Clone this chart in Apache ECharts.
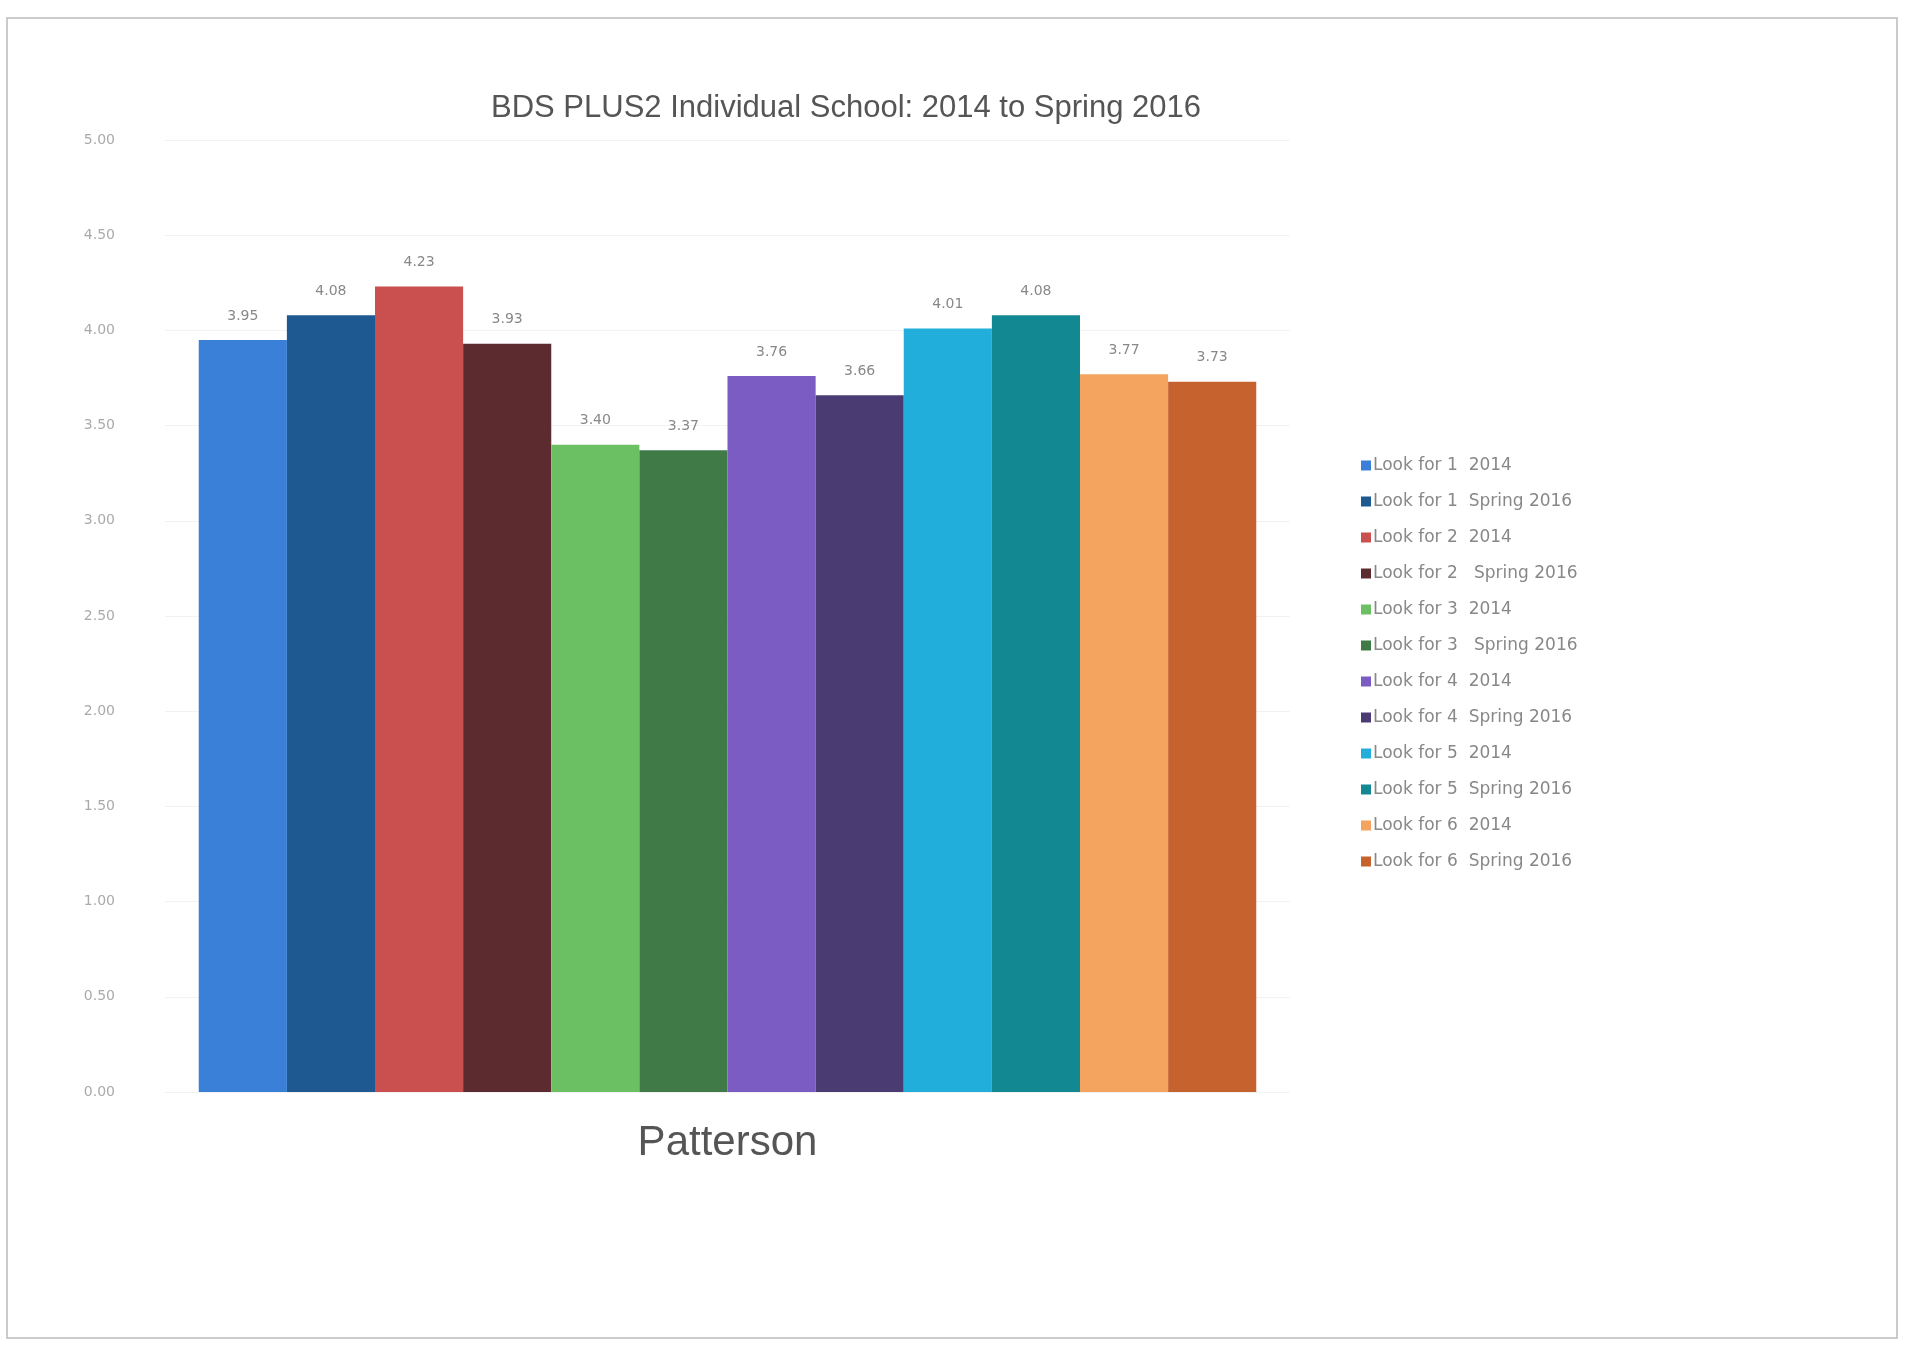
<!DOCTYPE html>
<html>
<head>
<meta charset="utf-8">
<script src="https://cdn.jsdelivr.net/npm/echarts@6/dist/echarts.min.js"></script>
<style>
html,body{margin:0;padding:0;background:#fff;}
#chart{width:1906px;height:1351px;}
</style>
</head>
<body>
<div id="chart"></div>
<script>
const categories = ['Patterson'];
const seriesNames = [
  'Look for 1  2014', 'Look for 1  Spring 2016',
  'Look for 2  2014', 'Look for 2   Spring 2016',
  'Look for 3  2014', 'Look for 3   Spring 2016',
  'Look for 4  2014', 'Look for 4  Spring 2016',
  'Look for 5  2014', 'Look for 5  Spring 2016',
  'Look for 6  2014', 'Look for 6  Spring 2016'
];
const seriesValues = [3.95, 4.08, 4.23, 3.93, 3.40, 3.37, 3.76, 3.66, 4.01, 4.08, 3.77, 3.73];
const seriesColors = ['#3a80d8', '#1e5991', '#c9504f', '#5b2b30', '#6cc064', '#3f7a47', '#7a5cc2', '#4a3b73', '#22aedb', '#128892', '#f5a45f', '#c6622e'];
const yTicks = { min: 0, max: 5, interval: 0.5 };

const chart = echarts.init(document.getElementById('chart'));
const series = seriesNames.map((name, i) => ({
  name: name,
  type: 'bar',
  data: [seriesValues[i]],
  barGap: '0%',
  barCategoryGap: '6%',
  itemStyle: { color: seriesColors[i] },
  label: {
    show: true,
    position: 'top',
    distance: 17,
    formatter: p => p.value.toFixed(2),
    color: '#888',
    fontSize: 14,
    fontFamily: 'DejaVu Sans'
  }
}));

chart.setOption({
  backgroundColor: '#fff',
  animation: false,
  title: {
    text: 'BDS PLUS2 Individual School: 2014 to Spring 2016',
    left: 841,
    top: 88,
    textAlign: 'center',
    textStyle: { color: '#555', fontSize: 31, fontWeight: 'normal', fontFamily: 'Liberation Sans' }
  },
  graphic: [{
    type: 'rect',
    shape: { x: 7, y: 18, width: 1890, height: 1320 },
    style: { fill: 'none', stroke: '#bbb', lineWidth: 1.5 },
    silent: true
  }],
  legend: {
    orient: 'vertical',
    left: 1356,
    top: 452,
    itemWidth: 10,
    itemHeight: 10,
    itemGap: 19,
    icon: 'rect',
    textStyle: { color: '#888', fontSize: 17, fontFamily: 'DejaVu Sans', padding: [0, 0, 0, -3] },
    data: seriesNames
  },
  grid: { left: 165, top: 140, width: 1125, height: 952 },
  xAxis: {
    type: 'category',
    data: categories,
    axisLine: { show: false },
    axisTick: { show: false },
    axisLabel: { color: '#555', fontSize: 42, margin: 30, fontFamily: 'Liberation Sans' }
  },
  yAxis: {
    type: 'value',
    min: yTicks.min,
    max: yTicks.max,
    interval: yTicks.interval,
    axisLine: { show: false },
    axisTick: { show: false },
    splitLine: { lineStyle: { color: '#f2f2f2' } },
    axisLabel: { color: '#aaa', fontSize: 14, margin: 50, formatter: v => v.toFixed(2), fontFamily: 'DejaVu Sans' }
  },
  series: series
});
</script>
</body>
</html>
